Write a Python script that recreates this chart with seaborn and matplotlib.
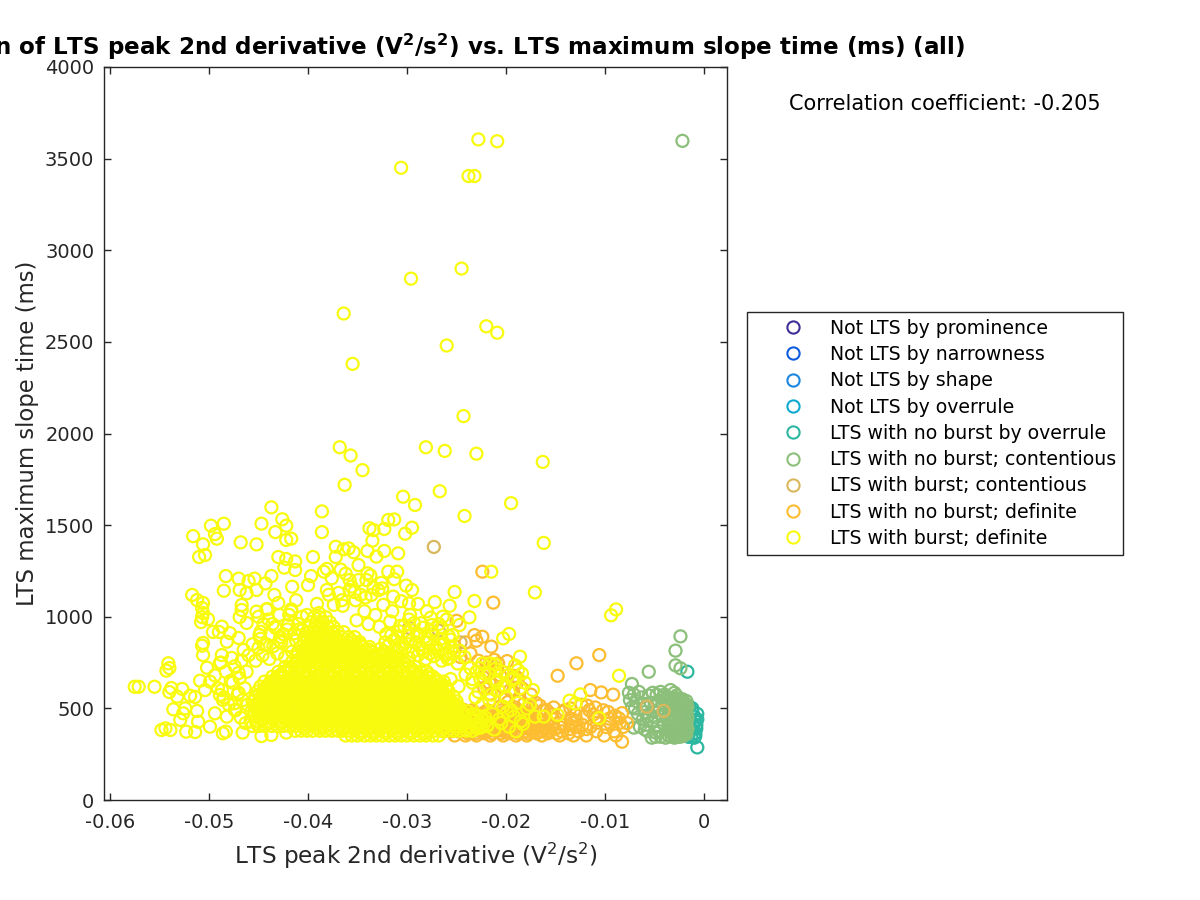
import numpy as np
import matplotlib
matplotlib.use("Agg")
import matplotlib.pyplot as plt
from matplotlib.lines import Line2D
import seaborn as sns

# x values are written in units of 0.001 V^2/s^2, y values in ms
labels = ["Not LTS by prominence", "Not LTS by narrowness", "Not LTS by shape", "Not LTS by overrule",
          "LTS with no burst by overrule", "LTS with no burst; contentious", "LTS with burst; contentious",
          "LTS with no burst; definite", "LTS with burst; definite"]
colors = ["#3e2f96", "#0f5ce0", "#1a87e0", "#0fa9cf", "#2bb7a0", "#8cc07a", "#d9b75c", "#fdbd30", "#f9fb0e"]

teal_x = [-1.7, -0.7, -1.5, -1.2, -1.0, -0.9, -0.8, -1.3, -1.6, -0.9, -0.7, -1.1, -1.4, -0.8, -1.8, -1.2, -1.0, -0.7, -1.5, -0.9]
teal_y = [700, 287, 510, 480, 455, 430, 390, 345, 345, 365, 440, 410, 380, 410, 470, 500, 340, 470, 440, 350]

green_x = [-2.2, -2.4, -2.9, -2.9, -2.4, -5.6, -7.3, -7.6, -7.1, -6.6, -7.5, -6.9, -6.3, -7.0, -6.1, -5.2, -5.6, -4.8, -4.4, -4.0,
           -5.4, -6.0, -5.0, -4.6, -4.2, -3.8, -3.4, -3.0, -2.8, -3.5, -7.3, -6.7, -6.2, -5.7, -5.1, -4.5, -4.9, -4.3, -3.9, -5.3,
           -5.9, -6.5, -7.1, -4.7, -4.1, -3.6, -3.3, -3.0, -2.7, -2.4, -2.1, -1.8, -3.5, -3.2, -2.9, -2.6, -2.3, -2.0, -1.7, -3.6,
           -3.3, -3.0, -2.7, -2.4, -2.1, -1.8, -3.5, -3.2, -2.9, -2.6, -2.3, -2.0, -1.7, -3.6, -3.3, -3.0, -2.7, -2.4, -2.1, -1.8,
           -3.5, -3.2, -2.9, -2.6, -2.3, -2.0, -1.7, -3.6, -3.3, -3.0, -2.7, -2.4, -2.1, -1.8, -3.4, -3.1, -2.8, -2.5, -2.2, -1.9,
           -3.6, -3.0, -2.4, -1.8, -4.4, -4.9, -5.3, -3.9, -4.5, -5.0, -5.7, -6.0, -4.2, -4.0]
green_y = [3597, 893, 815, 735, 719, 700, 633, 585, 575, 590, 545, 540, 560, 500, 525, 585, 570, 575, 590, 575,
           530, 480, 520, 540, 530, 560, 600, 585, 570, 530, 505, 470, 440, 455, 480, 495, 450, 465, 510, 425,
           410, 400, 395, 400, 420, 380, 345, 340, 345, 345, 350, 360, 375, 375, 375, 380, 380, 385, 390, 405,
           405, 405, 410, 410, 415, 420, 435, 435, 435, 440, 440, 445, 450, 465, 465, 465, 470, 470, 475, 480,
           495, 495, 495, 500, 500, 505, 510, 525, 525, 525, 530, 530, 535, 540, 555, 555, 555, 545, 550, 525,
           350, 360, 365, 375, 345, 345, 340, 340, 375, 370, 375, 385, 560, 545]

tan_x = [-5.8, -4.1, -27.3, -29.8, -26.8, -24.6]
tan_y = [509, 486, 1381, 940, 925, 860]

# sparse orange points
orange_x = [-22.4, -21.3, -10.6, -12.9, -14.8, -11.5, -10.4, -9.2, -17.5, -19.9, -19.1, -18.8, -21.5, -22.4, -23.0, -25.0,
            -8.3, -8.3, -7.8, -22.3, -21.9, -21.4, -20.9, -20.6, -22.0, -21.2, -20.8, -21.7, -20.4, -19.6, -19.3, -18.9, -18.4,
            -23.2, -24.1, -25.2, -24.6, -23.6, -22.8, -22.2, -21.6, -13.5, -12.4, -11.8, -11.0, -10.2, -9.7, -9.0, -8.6,
            -20.6, -19.8, -19.1, -18.2, -17.4, -16.6, -15.9, -15.2, -14.3, -20.1, -18.7, -17.0, -15.5, -13.0, -12.1, -10.9, -9.5]
orange_y = [1246, 1077, 791, 746, 678, 600, 587, 575, 575, 758, 677, 664, 837, 891, 869, 978,
            318, 474, 420, 670, 700, 735, 710, 680, 750, 765, 745, 640, 620, 600, 590, 640, 610,
            900, 860, 840, 780, 800, 760, 610, 580, 500, 520, 515, 505, 490, 480, 460, 445,
            510, 535, 505, 525, 500, 515, 490, 505, 480, 560, 545, 530, 470, 465, 455, 450, 420]

# orange band, rows at y = orange_levels
orange_levels = [352, 364, 375, 387, 398, 410, 421, 433, 444, 456, 467, 478, 490]
orange_rows = [
    [-25.2, -24.1, -23.0, -21.6, -20.3, -19.0, -17.9, -16.4, -14.6, -13.2, -11.9, -10.1, -8.9],
    [-23.9, -23.1, -22.2, -21.4, -20.5, -19.7, -18.8, -17.8, -16.9, -15.8, -14.9, -13.7],
    [-26.3, -25.5, -24.8, -24.0, -23.3, -22.5, -21.8, -21.0, -20.2, -19.5, -18.8, -18.0, -17.3, -16.5, -15.7, -14.4, -12.7, -10.9, -9.1],
    [-24.4, -23.6, -22.7, -21.9, -21.1, -20.3, -19.4, -18.6, -17.7, -16.8, -15.9, -15.1, -13.6, -11.9],
    [-25.8, -25.0, -24.3, -23.5, -22.8, -22.1, -21.3, -20.6, -19.8, -19.1, -18.3, -17.6, -16.9, -16.1, -15.4, -14.6, -13.0, -11.5, -9.9, -8.2],
    [-23.2, -22.4, -21.6, -20.7, -19.9, -19.2, -18.4, -17.5, -16.7, -15.8, -14.1, -12.3],
    [-25.4, -24.7, -23.9, -23.2, -22.4, -21.7, -20.9, -20.2, -19.4, -18.7, -17.9, -17.2, -16.4, -15.7, -13.3, -10.8, -8.5],
    [-22.9, -22.1, -21.2, -20.4, -19.6, -18.9, -18.1, -17.1, -16.2, -12.9],
    [-25.0, -24.2, -23.5, -22.7, -22.0, -21.2, -20.5, -19.8, -19.0, -18.3, -17.5, -15.3, -13.5, -9.6],
    [-22.6, -21.8, -20.9, -20.1, -19.3, -17.6],
    [-24.6, -23.8, -23.1, -22.3, -21.6, -20.8, -19.4, -17.7, -15.4, -11.2],
    [-23.3, -22.2, -20.2, -18.2],
    [-24.2, -23.4, -21.9, -20.4, -18.9, -16.2, -14.1, -11.6],
]

# sparse yellow points, read one by one
sparse_x = [-22.8, -20.9, -30.6, -23.8, -23.2, -24.5, -29.6, -36.4, -22.0, -20.9, -26.0, -35.5, -24.3, -36.8, -28.1, -26.2, -23.0, -35.7, -34.5, -36.3,
            -26.7, -30.4, -29.2, -19.5, -43.7, -38.6, -24.2, -16.3, -16.2, -49.8, -48.5, -44.7, -42.6, -42.2, -43.3, -38.6, -51.6, -49.4, -49.2, -50.6,
            -46.8, -45.2, -42.2, -41.7, -51.0, -50.4, -43.0, -42.2, -41.3, -39.5, -37.2, -37.2, -36.4, -35.9, -35.4, -33.8, -33.4, -32.3, -31.9, -31.3,
            -29.5, -30.2, -33.5, -34.0, -32.3, -30.9, -33.1, -31.9, -31.0, -34.9, -34.0, -36.7, -38.4, -38.1, -42.4, -41.3, -48.3, -47.0, -48.5, -45.4,
            -46.0, -43.7, -44.3, -46.9, -46.2, -45.2, -43.4, -41.6, -40.0, -39.7, -38.1, -35.8, -35.8, -33.6, -32.5, -34.1, -29.5, -29.8, -51.7, -51.2,
            -50.6, -50.7, -50.6, -50.7, -50.8, -50.1, -46.7, -46.7, -46.9, -46.2, -45.2, -44.1, -49.6, -48.7, -49.0, -47.9, -47.0, -48.2, -50.6, -50.7,
            -46.5, -44.8, -50.6, -48.7, -47.7, -48.9, -50.2, -47.0, -54.1, -54.0, -54.3, -57.5, -57.1, -55.5, -53.8, -52.7, -54.0, -53.2, -51.9, -51.4,
            -50.9, -49.9, -50.4, -48.7, -48.9, -48.6, -47.0, -47.4, -47.4, -53.6, -52.4, -51.2, -52.6, -52.9, -49.4, -48.2, -51.1, -49.9, -54.8, -54.4,
            -53.9, -52.3, -51.4, -48.6, -48.3, -46.6, -44.7, -43.7, -42.2, -17.1, -8.9, -9.4, -8.6, -12.5, -13.6, -13.0, -18.6, -18.8, -20.3, -19.7,
            -23.7, -23.2, -21.5, -10.6, -14.8, -17.1, -16.2,
            -44.2, -43.0, -41.9, -41.2, -44.9, -43.6, -42.5, -45.6, -44.4, -42.9, -41.7, -36.5, -35.2, -34.3, -33.2, -32.4, -31.5, -30.6, -29.7, -28.9,
            -28.0, -27.2, -26.4, -25.7, -25.2, -35.1, -33.9, -32.8, -31.7, -30.7, -29.8, -28.6, -27.6, -26.8, -26.0, -32.1, -31.0, -29.9, -28.8, -27.6,
            -26.5, -25.4, -24.7, -30.8, -29.1, -27.9, -26.7, -25.6, -28.4, -27.1, -26.1, -25.9, -36.9, -35.6, -34.7, -33.4, -37.6, -36.2, -34.9, -33.7,
            -32.6, -31.3, -30.1, -37.9, -36.6, -35.3, -34.2, -32.9, -31.4, -38.9, -37.4, -40.6, -41.7, -42.9, -44.0, -45.0, -44.5, -43.3, -42.1, -41.0,
            -40.1, -39.1, -24.9, -24.2, -23.6, -23.0, -22.4, -21.8, -21.1, -25.6, -24.8, -24.1, -23.4, -22.6, -21.9, -20.9, -20.1, -19.2,
            -46.3, -46.8, -47.3, -46.1, -46.6, -47.1, -46.4, -47.6, -46.9, -46.2, -47.4, -46.7, -46.0, -48.0, -48.5, -49.1, -47.8, -48.3, -49.4, -48.8,
            -45.3, -44.6, -43.9, -43.1, -42.3, -41.6, -45.0, -44.2, -43.5, -42.7, -41.9, -41.2, -44.8, -43.8, -42.8, -41.4, -40.6, -43.3, -42.0, -40.9,
            -33.2, -32.3, -31.5, -30.6, -29.8, -28.9, -28.1, -27.3, -26.5, -25.7, -32.7, -31.9, -31.0, -30.2, -29.4, -28.5, -27.7, -26.9, -26.1, -25.3,
            -32.2, -31.3, -30.5, -29.6, -28.8, -28.0, -27.1, -26.3, -25.5, -24.7, -31.6, -30.8, -29.9, -29.0, -28.2, -27.4, -26.6, -25.8, -30.3, -29.3, -28.4, -27.5,
            -22.6, -21.9, -21.2, -20.5, -19.7, -19.0, -18.3, -22.1, -21.4, -20.7, -19.9, -19.2, -18.5, -22.4, -21.7, -20.3, -19.5, -18.8, -17.9, -23.1,
            -22.8, -21.5, -20.8, -20.0, -21.0, -20.2, -19.4, -18.6, -23.4, -22.2, -21.1, -19.8, -18.1, -17.3, -22.7, -21.6, -20.4, -19.1, -18.4, -17.6]
sparse_y = [3605, 3595, 3450, 3405, 3405, 2900, 2845, 2655, 2585, 2550, 2480, 2380, 2095, 1925, 1925, 1905, 1890, 1880, 1800, 1720,
            1685, 1655, 1610, 1620, 1597, 1575, 1550, 1845, 1403, 1497, 1508, 1508, 1532, 1497, 1462, 1462, 1440, 1451, 1426, 1395,
            1406, 1395, 1419, 1426, 1326, 1337, 1326, 1315, 1302, 1326, 1382, 1326, 1368, 1373, 1352, 1483, 1473, 1479, 1528, 1531,
            1486, 1453, 1415, 1359, 1359, 1346, 1328, 1246, 1246, 1282, 1237, 1257, 1246, 1261, 1268, 1255, 1222, 1208, 1142, 1208,
            1195, 1222, 1182, 1146, 1128, 1146, 1119, 1164, 1173, 1222, 1146, 1200, 1146, 1119, 1155, 1200, 1146, 1073, 1119, 1091,
            1075, 1048, 1020, 998, 971, 987, 1064, 1037, 998, 966, 1028, 1042, 917, 946, 917, 911, 884, 864, 857, 842,
            819, 918, 791, 791, 775, 748, 722, 693, 746, 720, 706, 618, 618, 618, 611, 606, 589, 564, 569, 562,
            651, 646, 600, 600, 573, 546, 585, 528, 491, 495, 500, 486, 473, 437, 473, 455, 427, 400, 382, 391,
            382, 373, 371, 364, 373, 368, 349, 355, 368, 1133, 1040, 1008, 678, 576, 542, 527, 782, 709, 882, 906,
            997, 1086, 1246, 447, 464, 455, 455,
            1040, 1075, 1010, 1090, 900, 960, 905, 850, 845, 870, 1030, 1060, 1090, 1030, 1010, 1065, 1030, 1085, 1010, 1070,
            1030, 1080, 1000, 1060, 1135, 980, 960, 945, 975, 950, 985, 965, 995, 960, 985, 905, 890, 915, 895, 920,
            940, 900, 955, 830, 860, 880, 850, 875, 810, 825, 800, 770, 1130, 1165, 1120, 1160, 1210, 1235, 1200, 1225,
            1185, 1205, 1170, 1120, 1090, 1135, 1105, 1145, 1110, 1020, 1065, 1000, 1040, 1010, 985, 1000, 960, 945, 930, 960,
            1010, 1070, 745, 780, 720, 700, 745, 690, 740, 660, 620, 685, 640, 660, 610, 650, 620, 665,
            420, 450, 490, 520, 545, 575, 610, 640, 665, 700, 730, 760, 790, 520, 560, 610, 650, 700, 680, 750,
            760, 790, 770, 800, 780, 810, 830, 850, 840, 860, 845, 870, 880, 900, 890, 910, 925, 940, 955, 930,
            790, 810, 785, 800, 775, 790, 770, 785, 760, 775, 825, 840, 815, 830, 810, 825, 800, 815, 790, 800,
            860, 875, 850, 870, 845, 860, 835, 850, 830, 815, 900, 920, 895, 910, 890, 905, 880, 895, 950, 965, 940, 955,
            395, 410, 385, 420, 400, 375, 415, 450, 470, 440, 480, 455, 430, 520, 545, 510, 490, 530, 500, 560,
            590, 575, 600, 560, 640, 625, 655, 610, 660, 690, 715, 680, 640, 600, 720, 745, 700, 735, 690, 520]

# solid part of the yellow cloud, rows at y = dense_levels
dense_levels = [352, 378, 404, 430, 457, 484, 511, 538, 565, 592, 619, 646, 673, 700, 727, 754, 781, 808, 835, 862, 889, 916, 943, 970, 997]
dense_rows = [
    [-36.2, -35.6, -35.0, -34.3, -33.7, -33.1, -32.5, -31.8, -31.2, -30.6, -30.0, -29.3, -28.7, -28.1, -27.4, -26.8],
    [-41.3, -40.7, -40.1, -39.5, -38.8, -38.2, -37.6, -37.0, -36.5, -35.9, -35.3, -34.7, -34.0, -33.4, -32.8, -32.2, -31.5, -30.9, -30.3, -29.7, -29.0, -28.4, -27.8, -27.2, -26.5, -25.9, -25.3, -24.7, -24.0, -23.4],
    [-45.6, -45.0, -44.4, -43.7, -43.1, -42.5, -41.9, -41.2, -40.6, -40.0, -39.4, -38.7, -38.1, -37.5, -36.9, -36.2, -35.6, -35.0, -34.4, -33.7, -33.1, -32.5, -31.9, -31.2, -30.6, -30.0, -29.4, -28.7, -28.1, -27.5, -26.9, -26.2, -25.6, -25.0, -24.4, -23.7, -23.1, -22.5, -21.9],
    [-45.8, -45.2, -44.6, -44.0, -43.3, -42.7, -42.1, -41.5, -40.8, -40.2, -39.6, -39.0, -38.3, -37.7, -37.1, -36.5, -35.8, -35.2, -34.6, -34.0, -33.3, -32.7, -32.1, -31.5, -30.8, -30.2, -29.6, -29.0, -28.3, -27.7, -27.1, -26.5, -25.8, -25.2, -24.6, -24.0, -23.3, -22.7, -22.1],
    [-45.5, -44.9, -44.3, -43.6, -43.0, -42.4, -41.8, -41.1, -40.5, -39.9, -39.3, -38.6, -38.0, -37.4, -36.8, -36.1, -35.5, -34.9, -34.3, -33.6, -33.0, -32.4, -31.8, -31.1, -30.5, -29.9, -29.3, -28.6, -28.0, -27.4, -26.8, -26.1, -25.5, -24.9, -24.3, -23.6, -23.0],
    [-45.7, -45.1, -44.5, -43.9, -43.2, -42.6, -42.0, -41.4, -40.7, -40.1, -39.5, -38.9, -38.2, -37.6, -37.0, -36.4, -35.7, -35.1, -34.5, -33.9, -33.2, -32.6, -32.0, -31.4, -30.7, -30.1, -29.5, -28.9, -28.2, -27.6, -27.0, -26.4, -25.7, -25.1, -24.5, -23.9],
    [-45.4, -44.8, -44.2, -43.5, -42.9, -42.3, -41.7, -41.0, -40.4, -39.8, -39.2, -38.5, -37.9, -37.3, -36.7, -36.0, -35.4, -34.8, -34.2, -33.5, -32.9, -32.3, -31.7, -31.0, -30.4, -29.8, -29.2, -28.5, -27.9, -27.3, -26.7, -26.0, -25.4, -24.8],
    [-45.6, -45.0, -44.4, -43.8, -43.1, -42.5, -41.9, -41.3, -40.6, -40.0, -39.4, -38.8, -38.1, -37.5, -36.9, -36.3, -35.6, -35.0, -34.4, -33.8, -33.1, -32.5, -31.9, -31.3, -30.6, -30.0, -29.4, -28.8, -28.1, -27.5, -26.9, -26.3, -25.6, -25.0],
    [-45.3, -44.7, -44.1, -43.4, -42.8, -42.2, -41.6, -40.9, -40.3, -39.7, -39.1, -38.4, -37.8, -37.2, -36.6, -35.9, -35.3, -34.7, -34.1, -33.4, -32.8, -32.2, -31.6, -30.9, -30.3, -29.7, -29.1, -28.4, -27.8, -27.2, -26.6, -25.9, -25.3],
    [-45.1, -44.5, -43.9, -43.3, -42.6, -42.0, -41.4, -40.8, -40.1, -39.5, -38.9, -38.3, -37.6, -37.0, -36.4, -35.8, -35.1, -34.5, -33.9, -33.3, -32.6, -32.0, -31.4, -30.8, -30.1, -29.5, -28.9, -28.3, -27.6, -27.0, -26.4, -25.8],
    [-44.8, -44.2, -43.6, -42.9, -42.3, -41.7, -41.1, -40.4, -39.8, -39.2, -38.6, -37.9, -37.3, -36.7, -36.1, -35.4, -34.8, -34.2, -33.6, -32.9, -32.3, -31.7, -31.1, -30.4, -29.8, -29.2, -28.6, -27.9, -27.3, -26.7, -26.1],
    [-44.4, -43.8, -43.2, -42.6, -41.9, -41.3, -40.7, -40.1, -39.4, -38.8, -38.2, -37.6, -36.9, -36.3, -35.7, -35.1, -34.4, -33.8, -33.2, -32.6, -31.9, -31.3, -30.7, -30.1, -29.4, -28.8, -28.2, -27.6, -26.9, -26.3],
    [-43.6, -43.0, -42.4, -41.7, -41.1, -40.5, -39.9, -39.2, -38.6, -38.0, -37.4, -36.7, -36.1, -35.5, -34.9, -34.2, -33.6, -33.0, -32.4, -31.7, -31.1, -30.5, -29.9, -29.2, -28.6, -28.0, -27.4],
    [-43.0, -42.4, -41.8, -41.1, -40.5, -39.9, -39.3, -38.6, -38.0, -37.4, -36.8, -36.1, -35.5, -34.9, -34.3, -33.6, -33.0, -32.4, -31.8, -31.1, -30.5, -29.9, -29.3, -28.6, -28.0],
    [-42.3, -41.7, -41.1, -40.4, -39.8, -39.2, -38.6, -37.9, -37.3, -36.7, -36.1, -35.4, -34.8, -34.2, -33.6, -32.9, -32.3, -31.7, -31.1, -30.4, -29.8, -29.2],
    [-41.6, -41.0, -40.4, -39.7, -39.1, -38.5, -37.9, -37.2, -36.6, -36.0, -35.4, -34.7, -34.1, -33.5, -32.9, -32.2, -31.6, -31.0, -30.4],
    [-41.2, -40.6, -40.0, -39.3, -38.7, -38.1, -37.5, -36.8, -36.2, -35.6, -35.0, -34.3, -33.7, -33.1, -32.5, -31.8, -31.2],
    [-41.0, -40.4, -39.7, -39.1, -38.5, -37.9, -37.2, -36.6, -36.0, -35.4, -34.7, -34.1, -33.5],
    [-40.7, -40.1, -39.5, -38.8, -38.2, -37.6, -37.0, -36.3, -35.7, -35.1, -34.5, -33.8],
    [-40.4, -39.8, -39.2, -38.5, -37.9, -37.3, -36.7, -36.0, -35.4, -34.8],
    [-40.3, -39.7, -39.1, -38.4, -37.8, -37.2, -36.6, -35.9, -35.3],
    [-40.1, -39.5, -38.9, -38.2, -37.6, -37.0, -36.4],
    [-39.9, -39.3, -38.7, -38.0, -37.4],
    [-39.7, -39.1, -38.5, -37.8],
    [-39.4, -38.8, -38.2],
]

# second pass over the same cloud, points between the first rows
fill_levels = [365, 391, 417, 443, 470, 497, 524, 551, 578, 605, 632, 659, 686, 713, 740, 767, 794, 821, 848, 875]
fill_rows = [
    [-34.7, -33.4, -32.1, -30.9, -29.6, -28.2],
    [-40.3, -38.9, -37.8, -36.4, -35.1, -34.0, -32.7, -31.3, -30.2, -28.8, -27.5, -26.3, -25.0, -23.8, -22.9],
    [-45.2, -44.0, -42.7, -41.6, -40.2, -39.0, -37.9, -36.6, -35.3, -34.1, -32.9, -31.6, -30.4, -29.1, -27.9, -26.6, -25.4, -24.2, -22.8],
    [-44.7, -43.5, -42.2, -41.0, -39.7, -38.5, -37.3, -36.0, -34.8, -33.5, -32.3, -31.0, -29.8, -28.5, -27.3, -26.0, -24.8, -23.6, -22.4],
    [-45.4, -44.2, -43.0, -41.7, -40.5, -39.2, -38.0, -36.7, -35.5, -34.2, -33.0, -31.7, -30.5, -29.2, -28.0, -26.7, -25.5, -24.3, -23.4],
    [-44.8, -43.6, -42.3, -41.1, -39.8, -38.6, -37.3, -36.1, -34.8, -33.6, -32.3, -31.1, -29.8, -28.6, -27.3, -26.1, -24.9],
    [-45.1, -43.9, -42.6, -41.4, -40.1, -38.9, -37.6, -36.4, -35.1, -33.9, -32.6, -31.4, -30.1, -28.9, -27.6, -26.4, -25.2],
    [-44.6, -43.3, -42.1, -40.8, -39.6, -38.3, -37.1, -35.8, -34.6, -33.3, -32.1, -30.8, -29.6, -28.3, -27.1, -25.8],
    [-44.9, -43.7, -42.4, -41.2, -39.9, -38.7, -37.4, -36.2, -34.9, -33.7, -32.4, -31.2, -29.9, -28.7, -27.4, -26.2],
    [-44.3, -43.0, -41.8, -40.5, -39.3, -38.0, -36.8, -35.5, -34.3, -33.0, -31.8, -30.5, -29.3, -28.0, -26.8],
    [-43.9, -42.6, -41.4, -40.1, -38.9, -37.6, -36.4, -35.1, -33.9, -32.6, -31.4, -30.1, -28.9, -27.6, -26.5],
    [-43.3, -42.0, -40.8, -39.5, -38.3, -37.0, -35.8, -34.5, -33.3, -32.0, -30.8, -29.5, -28.3, -27.1],
    [-42.7, -41.4, -40.2, -38.9, -37.7, -36.4, -35.2, -33.9, -32.7, -31.4, -30.2, -28.9, -27.8],
    [-42.0, -40.8, -39.5, -38.3, -37.0, -35.8, -34.5, -33.3, -32.0, -30.8, -29.5],
    [-41.3, -40.1, -38.8, -37.6, -36.3, -35.1, -33.8, -32.6, -31.3, -30.1],
    [-40.9, -39.6, -38.4, -37.1, -35.9, -34.6, -33.4, -32.1, -30.9],
    [-40.5, -39.2, -38.0, -36.7, -35.5, -34.2, -32.9, -31.7],
    [-40.2, -38.9, -37.7, -36.4, -35.2, -33.9],
    [-39.8, -38.6, -37.3, -36.1, -34.8],
    [-39.6, -38.3, -37.0, -35.7],
]

x_ticks = [-0.06, -0.05, -0.04, -0.03, -0.02, -0.01, 0]
x_tick_labels = ["-0.06", "-0.05", "-0.04", "-0.03", "-0.02", "-0.01", "0"]
y_ticks = [0, 500, 1000, 1500, 2000, 2500, 3000, 3500, 4000]


def flatten_rows(levels, rows):
    xs, ys = [], []
    for level, row in zip(levels, rows):
        xs += row
        ys += [level] * len(row)
    return xs, ys


sns.set_style("ticks")
plt.rcParams['font.family'] = ['DejaVu Sans']
fig = plt.figure(figsize=(12, 9), dpi=100)
ax = fig.add_axes([104 / 1200, 1 - 800 / 900, 623 / 1200, 733 / 900])

band_x, band_y = flatten_rows(orange_levels, orange_rows)
dense_x, dense_y = flatten_rows(dense_levels, dense_rows)
fill_x, fill_y = flatten_rows(fill_levels, fill_rows)
series = [
    (teal_x, teal_y, colors[4]),
    (green_x, green_y, colors[5]),
    (orange_x + band_x, orange_y + band_y, colors[7]),
    (tan_x, tan_y, colors[6]),
    (sparse_x + dense_x + fill_x, sparse_y + dense_y + fill_y, colors[8]),
]
for xs, ys, color in series:
    sns.scatterplot(x=np.array(xs) / 1000, y=ys, ax=ax, s=75, marker='o', facecolors='none',
                    edgecolor=color, linewidth=1.6, legend=False, zorder=3)

ax.set_xlim(-0.0606, 0.0023)
ax.set_ylim(0, 4000)
ax.set_xticks(x_ticks)
ax.set_xticklabels(x_tick_labels)
ax.set_yticks(y_ticks)
ax.tick_params(direction='in', top=True, right=True, length=5, width=1, color='#262626',
               labelcolor='#262626', labelsize=14)
ax.tick_params(axis='x', pad=9)
ax.tick_params(axis='y', pad=7)
for side in ax.spines.values():
    side.set_visible(True)
    side.set_color('#262626')
    side.set_linewidth(1)

ax.set_xlabel(r'LTS peak 2nd derivative ($\mathregular{V^2/s^2}$)', fontsize=16.7, color='#262626', labelpad=7)
ax.set_ylabel('LTS maximum slope time (ms)', fontsize=16.4, color='#262626', labelpad=4)
ax.set_title(r'Correlation of LTS peak 2nd derivative ($\mathbf{V^2/s^2}$) vs. LTS maximum slope time (ms) (all)',
             fontsize=16.6, fontweight='bold', color='black', pad=9)
fig.text(945 / 1200, 1 - 104.5 / 900, 'Correlation coefficient: -0.205', fontsize=15, color='black', ha='center', va='center')

handles = [Line2D([], [], linestyle='none', marker='o', markersize=8.8, markerfacecolor='none',
                  markeredgecolor=c, markeredgewidth=1.5) for c in colors]
leg = fig.legend(handles, labels, loc='upper left', bbox_to_anchor=(747 / 1200, 1 - 312 / 900), fontsize=13.6,
                 frameon=True, fancybox=False, edgecolor='#262626', framealpha=1, borderpad=0.36,
                 labelspacing=0.385, handletextpad=-0.18, handlelength=4.2, borderaxespad=0)
leg.get_frame().set_linewidth(1)
for text in leg.get_texts():
    text.set_color('black')

fig.savefig('out.png', dpi=100)
